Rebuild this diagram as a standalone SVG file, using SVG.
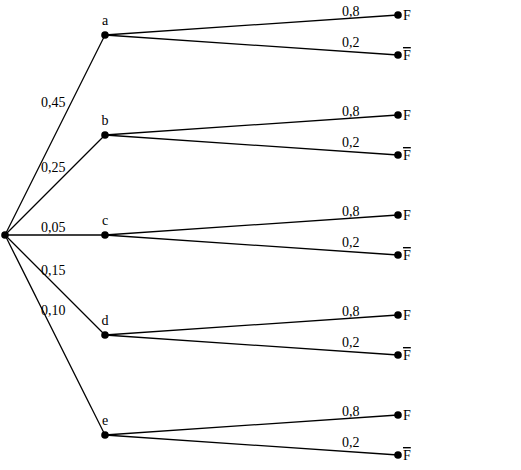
<svg xmlns="http://www.w3.org/2000/svg" width="521" height="470" viewBox="0 0 521 470">
<style>
.e{stroke:#000;stroke-width:1.3;fill:none}
.d{fill:#000}
text{font-family:"Liberation Serif","DejaVu Serif",serif;font-size:14px;fill:#000}
.m{text-anchor:middle}
.o{text-decoration:overline}
</style>
<rect width="521" height="470" fill="#fff"/>
<g id="connectors">
<line class="e" x1="5" y1="235" x2="105" y2="35"/>
<line class="e" x1="5" y1="235" x2="105" y2="135"/>
<line class="e" x1="5" y1="235" x2="105" y2="235"/>
<line class="e" x1="5" y1="235" x2="105" y2="335"/>
<line class="e" x1="5" y1="235" x2="105" y2="435"/>
<line class="e" x1="105" y1="35" x2="398" y2="15"/>
<line class="e" x1="105" y1="35" x2="398" y2="55"/>
<line class="e" x1="105" y1="135" x2="398" y2="115"/>
<line class="e" x1="105" y1="135" x2="398" y2="155"/>
<line class="e" x1="105" y1="235" x2="398" y2="215"/>
<line class="e" x1="105" y1="235" x2="398" y2="255"/>
<line class="e" x1="105" y1="335" x2="398" y2="315"/>
<line class="e" x1="105" y1="335" x2="398" y2="355"/>
<line class="e" x1="105" y1="435" x2="398" y2="415"/>
<line class="e" x1="105" y1="435" x2="398" y2="455"/>
<text x="41" y="107">0,45</text>
<text x="41" y="172">0,25</text>
<text x="41" y="232">0,05</text>
<text x="41" y="275">0,15</text>
<text x="41" y="315">0,10</text>
<text x="342" y="16">0,8</text>
<text x="342" y="47">0,2</text>
<text x="342" y="116">0,8</text>
<text x="342" y="147">0,2</text>
<text x="342" y="216">0,8</text>
<text x="342" y="247">0,2</text>
<text x="342" y="316">0,8</text>
<text x="342" y="347">0,2</text>
<text x="342" y="416">0,8</text>
<text x="342" y="447">0,2</text>
</g>
<g id="root"><circle class="d" cx="5" cy="235" r="3.8"/></g>
<g id="node-a"><circle class="d" cx="105" cy="35" r="3.8"/><text class="m" x="105" y="25">a</text></g>
<g id="node-b"><circle class="d" cx="105" cy="135" r="3.8"/><text class="m" x="105" y="125">b</text></g>
<g id="node-c"><circle class="d" cx="105" cy="235" r="3.8"/><text class="m" x="105" y="225">c</text></g>
<g id="node-d"><circle class="d" cx="105" cy="335" r="3.8"/><text class="m" x="105" y="325">d</text></g>
<g id="node-e"><circle class="d" cx="105" cy="435" r="3.8"/><text class="m" x="105" y="425">e</text></g>
<g id="leaf-aF"><circle class="d" cx="398" cy="15" r="3.8"/><text x="403" y="20">F</text></g>
<g id="leaf-aFbar"><circle class="d" cx="398" cy="55" r="3.8"/><text class="o" x="403" y="60">F</text></g>
<g id="leaf-bF"><circle class="d" cx="398" cy="115" r="3.8"/><text x="403" y="120">F</text></g>
<g id="leaf-bFbar"><circle class="d" cx="398" cy="155" r="3.8"/><text class="o" x="403" y="160">F</text></g>
<g id="leaf-cF"><circle class="d" cx="398" cy="215" r="3.8"/><text x="403" y="220">F</text></g>
<g id="leaf-cFbar"><circle class="d" cx="398" cy="255" r="3.8"/><text class="o" x="403" y="260">F</text></g>
<g id="leaf-dF"><circle class="d" cx="398" cy="315" r="3.8"/><text x="403" y="320">F</text></g>
<g id="leaf-dFbar"><circle class="d" cx="398" cy="355" r="3.8"/><text class="o" x="403" y="360">F</text></g>
<g id="leaf-eF"><circle class="d" cx="398" cy="415" r="3.8"/><text x="403" y="420">F</text></g>
<g id="leaf-eFbar"><circle class="d" cx="398" cy="455" r="3.8"/><text class="o" x="403" y="460">F</text></g>
</svg>
